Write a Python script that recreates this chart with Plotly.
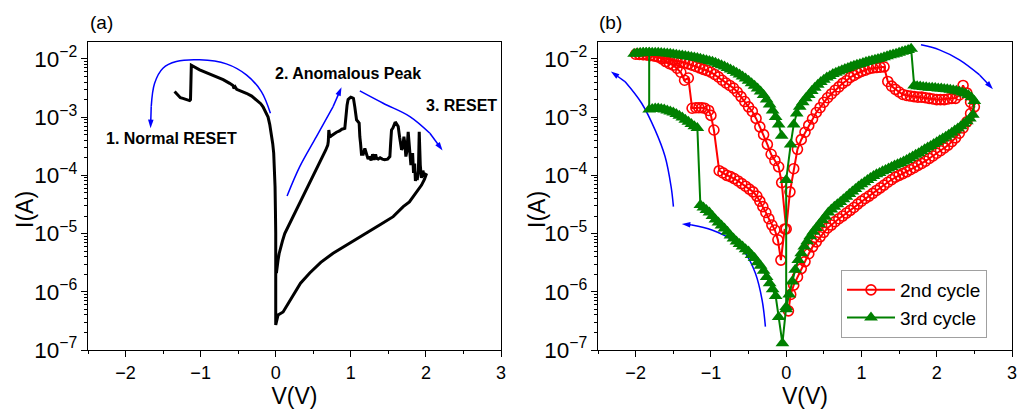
import numpy as np
import plotly.graph_objects as go

# ---------------- Panel (a) : single I-V loop (black line) ----------------
A_V = [-1.347, -1.30, -1.27, -1.236, -1.21, -1.18, -1.147, -1.135, -1.124, -1.013,
       -0.90, -0.791, -0.70, -0.613, -0.57, -0.555, -0.54, -0.52, -0.45, -0.391,
       -0.32, -0.258, -0.20, -0.169, -0.13, -0.102, -0.08, -0.058, -0.04, -0.027,
       -0.015, -0.009, -0.004, 0.0, 0.0,
       0.031, 0.098, 0.15, 0.231, 0.33, 0.453, 0.60, 0.764, 1.0, 1.209,
       1.40, 1.564, 1.698, 1.78, 1.831, 1.90, 1.942, 1.98, 2.009,
       1.98, 1.96, 1.94, 1.925, 1.911, 1.90, 1.884, 1.87, 1.86, 1.85,
       1.835, 1.823, 1.80, 1.78, 1.764, 1.745, 1.733, 1.72, 1.707, 1.69,
       1.676, 1.65, 1.631, 1.60, 1.587, 1.56, 1.542, 1.53, 1.52, 1.49,
       1.45, 1.42, 1.39, 1.365, 1.343, 1.33, 1.31, 1.29, 1.27, 1.25,
       1.23, 1.21, 1.187, 1.165, 1.142, 1.13, 1.12, 1.111, 1.09, 1.076,
       1.053, 1.035, 1.022, 1.0, 0.98, 0.964, 0.95, 0.94, 0.92, 0.88,
       0.85, 0.809, 0.775, 0.742, 0.72, 0.707, 0.70, 0.693, 0.665, 0.631,
       0.59, 0.542, 0.50, 0.453, 0.41, 0.364, 0.32, 0.26, 0.209, 0.16,
       0.12, 0.09, 0.067, 0.045, 0.031, 0.018, 0.009]
A_I = [2.75e-3, 2.4e-3, 2.15e-3, 2.1e-3, 2.05e-3, 2.0e-3, 1.92e-3, 2.0e-3, 7.8e-3, 6.5e-3,
       5.7e-3, 5.0e-3, 4.4e-3, 3.8e-3, 3.5e-3, 3.1e-3, 3.3e-3, 3.0e-3, 2.8e-3, 2.57e-3,
       2.3e-3, 2.0e-3, 1.7e-3, 1.5e-3, 1.2e-3, 1.0e-3, 7.5e-4, 5.3e-4, 3.5e-4, 2.4e-4,
       1.2e-4, 6.4e-5, 2.5e-5, 1.0e-5, 2.7e-7,
       4.0e-7, 4.5e-7, 5.8e-7, 8.8e-7, 1.4e-6, 2.1e-6, 3.2e-6, 4.6e-6, 7.0e-6, 1.0e-5,
       1.45e-5, 1.95e-5, 2.9e-5, 3.5e-5, 4.3e-5, 5.5e-5, 6.8e-5, 8.5e-5, 1.08e-4,
       9.5e-5, 1.2e-4, 9.0e-5, 1.5e-4, 5.6e-4, 1.2e-4, 8.3e-5, 1.0e-4, 8.0e-5, 1.6e-4,
       1.1e-4, 2.4e-4, 1.5e-4, 3.0e-4, 5.6e-4, 2.5e-4, 2.1e-4, 3.5e-4, 4.6e-4, 3.0e-4,
       2.75e-4, 4.5e-4, 6.9e-4, 8.0e-4, 7.9e-4, 6.5e-4, 6.0e-4, 3.5e-4, 2.1e-4, 1.9e-4,
       1.85e-4, 1.9e-4, 2.0e-4, 1.9e-4, 1.95e-4, 2.3e-4, 1.85e-4, 2.3e-4, 1.8e-4, 2.1e-4,
       1.9e-4, 2.3e-4, 2.9e-4, 2.3e-4, 2.3e-4, 3.5e-4, 4.6e-4, 7.9e-4, 8.5e-4, 9.0e-4,
       1.5e-3, 2.1e-3, 2.15e-3, 2.2e-3, 2.1e-3, 2.0e-3, 1.6e-3, 1.2e-3, 6.4e-4, 6.2e-4,
       5.8e-4, 5.5e-4, 5.2e-4, 4.8e-4, 4.5e-4, 6.0e-4, 3.8e-4, 3.3e-4, 2.7e-4, 2.2e-4,
       1.7e-4, 1.3e-4, 9.5e-5, 7.3e-5, 5.6e-5, 4.3e-5, 3.2e-5, 2.3e-5, 1.7e-5, 1.3e-5,
       1.0e-5, 7.5e-6, 6.0e-6, 4.5e-6, 3.5e-6, 2.7e-6, 2.1e-6]

# Blue guide arrows of panel (a): (V, log10 I), last point is the arrow tip
ARROW_A1 = [(-0.071, -2.934), (-0.191, -2.561), (-0.391, -2.275), (-0.658, -2.086),
            (-1.013, -2.017), (-1.324, -2.046), (-1.502, -2.16), (-1.613, -2.418),
            (-1.658, -2.82), (-1.667, -3.19)]
ARROW_A2 = [(0.151, -4.354), (0.32, -3.85), (0.542, -3.335), (0.764, -2.82), (0.876, -2.487)]
ARROW_A3 = [(1.12, -2.55), (1.431, -2.762), (1.787, -2.99), (2.053, -3.277), (2.222, -3.575)]

LABELS_A = ["1. Normal RESET", "2. Anomalous Peak", "3. RESET"]
LABEL_POS_A = [(-1.391, -3.363), (0.969, -2.258), (2.48, -2.796)]

# ---------------- Panel (b) : 2nd cycle (red circles) ----------------
R_LR_V = [0.03, 0.06, 0.10, 0.15, 0.20, 0.25, 0.30, 0.35, 0.40, 0.45, 0.50, 0.55, 0.60,
          0.65, 0.70, 0.75, 0.80, 0.85, 0.90, 0.95, 1.00, 1.05, 1.10, 1.15, 1.20, 1.25,
          1.30, 1.35, 1.40, 1.45, 1.50, 1.55, 1.60, 1.65, 1.70, 1.75, 1.80, 1.85, 1.90,
          1.95, 2.00, 2.05, 2.10, 2.15, 2.20, 2.25, 2.30, 2.35, 2.40, 2.45, 2.50]
R_LR_I = [4.7e-7, 9.0e-7, 1.3e-6, 1.8e-6, 2.5e-6, 3.3e-6, 4.5e-6, 5.9e-6, 7.2e-6, 8.8e-6,
          1.05e-5, 1.25e-5, 1.4e-5, 1.6e-5, 1.8e-5, 2.0e-5, 2.25e-5, 2.5e-5, 2.8e-5, 3.2e-5,
          3.6e-5, 4.0e-5, 4.4e-5, 4.9e-5, 5.5e-5, 6.1e-5, 6.8e-5, 7.6e-5, 8.4e-5, 9.3e-5,
          1.0e-4, 1.07e-4, 1.15e-4, 1.25e-4, 1.35e-4, 1.48e-4, 1.6e-4, 1.75e-4, 1.95e-4,
          2.15e-4, 2.4e-4, 2.65e-4, 2.95e-4, 3.3e-4, 3.8e-4, 4.4e-4, 5.3e-4, 6.5e-4, 8.3e-4,
          1.15e-3, 1.5e-3]
R_PL_V = [2.45, 2.40, 2.35, 2.30, 2.25, 2.20, 2.15, 2.10, 2.05, 2.00, 1.95, 1.90, 1.85,
          1.80, 1.75, 1.70, 1.65, 1.60, 1.55, 1.50, 1.45, 1.40, 1.35]
R_PL_I = [1.8e-3, 2.6e-3, 3.5e-3, 2.4e-3, 2.1e-3, 2.1e-3, 2.05e-3, 2.0e-3, 2.0e-3, 2.0e-3,
          2.05e-3, 2.1e-3, 2.15e-3, 2.2e-3, 2.2e-3, 2.25e-3, 2.3e-3, 2.35e-3, 2.45e-3,
          2.7e-3, 3.0e-3, 3.4e-3, 4.1e-3]
R_UR_V = [1.30, 1.25, 1.20, 1.15, 1.10, 1.05, 1.00, 0.95, 0.90, 0.85, 0.80, 0.75, 0.70,
          0.65, 0.60, 0.55, 0.50, 0.45, 0.40, 0.35, 0.30, 0.25, 0.20, 0.15, 0.10, 0.05, 0.00]
R_UR_I = [7.3e-3, 7.2e-3, 7.1e-3, 7.0e-3, 6.8e-3, 6.4e-3, 6.1e-3, 5.7e-3, 5.2e-3, 4.8e-3,
          4.2e-3, 3.8e-3, 3.3e-3, 2.9e-3, 2.5e-3, 2.15e-3, 1.8e-3, 1.45e-3, 1.2e-3, 9.3e-4,
          7.2e-4, 5.5e-4, 4.1e-4, 2.8e-4, 1.3e-4, 5.2e-5, 1.2e-5]
R_UL_V = [-0.06, -0.10, -0.15, -0.20, -0.25, -0.30, -0.35, -0.40, -0.45, -0.50, -0.55,
          -0.60, -0.65, -0.70, -0.75, -0.80, -0.85, -0.90, -0.95, -1.00, -1.05, -1.10,
          -1.15, -1.20, -1.25, -1.30, -1.35, -1.40, -1.45, -1.50, -1.55, -1.60, -1.65,
          -1.70, -1.75, -1.80, -1.85, -1.90, -1.95, -2.00]
R_UL_I = [7.5e-5, 1.4e-4, 1.8e-4, 2.3e-4, 3.4e-4, 5.0e-4, 6.8e-4, 9.5e-4, 1.25e-3, 1.5e-3,
          1.85e-3, 2.25e-3, 2.7e-3, 3.15e-3, 3.5e-3, 3.85e-3, 4.3e-3, 4.9e-3, 5.4e-3, 5.9e-3,
          6.3e-3, 6.6e-3, 7.0e-3, 7.4e-3, 7.8e-3, 8.2e-3, 8.6e-3, 8.9e-3, 9.2e-3, 9.6e-3,
          1.0e-2, 1.04e-2, 1.07e-2, 1.1e-2, 1.13e-2, 1.15e-2, 1.17e-2, 1.18e-2, 1.19e-2, 1.2e-2]
R_RT_V = [-1.95, -1.90, -1.85, -1.80, -1.75, -1.70, -1.65, -1.60, -1.55, -1.50, -1.45,
          -1.40, -1.35, -1.30, -1.25, -1.20, -1.16, -1.12, -1.08, -1.03, -1.00, -0.96,
          -0.89, -0.84, -0.79, -0.74, -0.69, -0.64, -0.59, -0.54, -0.49, -0.44,
          -0.39, -0.35, -0.31, -0.27, -0.23, -0.19, -0.15, -0.11, -0.07, -0.02]
R_RT_I = [1.2e-2, 1.19e-2, 1.18e-2, 1.15e-2, 1.12e-2, 1.08e-2, 1.0e-2, 9.0e-3, 8.3e-3, 7.8e-3,
          6.9e-3, 5.9e-3, 4.3e-3, 4.7e-3, 1.42e-3, 1.45e-3, 1.45e-3, 1.45e-3, 1.42e-3, 1.3e-3,
          1.07e-3, 6.0e-4, 1.2e-4, 1.1e-4, 1.0e-4, 9.5e-5, 8.8e-5, 8.0e-5, 7.2e-5, 6.5e-5,
          5.8e-5, 5.2e-5, 4.4e-5, 3.6e-5, 2.9e-5, 2.3e-5, 1.8e-5, 1.4e-5, 1.15e-5, 7.8e-6,
          3.5e-6, 1.2e-5]

# ---------------- Panel (b) : 3rd cycle (green triangles) ----------------
G_UL_V = [-0.06, -0.10, -0.14, -0.18, -0.22, -0.26, -0.30, -0.34, -0.38, -0.42,
          -0.46, -0.50, -0.54, -0.58, -0.62, -0.66, -0.70, -0.74, -0.78, -0.82,
          -0.86, -0.90, -0.94, -0.98, -1.02, -1.06, -1.10, -1.14, -1.18, -1.22,
          -1.26, -1.30, -1.34, -1.38, -1.42, -1.46, -1.50, -1.54, -1.58, -1.62,
          -1.66, -1.70, -1.74, -1.78, -1.82, -1.86, -1.90, -1.94, -1.98, -2.02]
G_UL_I = [4.8e-4, 7.5e-4, 1.0e-3, 1.3e-3, 1.65e-3, 2.0e-3, 2.4e-3, 2.75e-3, 3.1e-3, 3.45e-3,
          3.8e-3, 4.2e-3, 4.6e-3, 5.0e-3, 5.4e-3, 5.8e-3, 6.2e-3, 6.6e-3, 7.0e-3, 7.4e-3,
          7.8e-3, 8.2e-3, 8.6e-3, 8.9e-3, 9.2e-3, 9.5e-3, 9.8e-3, 1.01e-2, 1.04e-2, 1.06e-2,
          1.08e-2, 1.1e-2, 1.12e-2, 1.14e-2, 1.16e-2, 1.18e-2, 1.2e-2, 1.22e-2, 1.24e-2, 1.25e-2,
          1.26e-2, 1.27e-2, 1.27e-2, 1.27e-2, 1.27e-2, 1.26e-2, 1.26e-2, 1.25e-2, 1.24e-2, 1.22e-2]
G_RT_V = [-1.98, -1.94, -1.90, -1.86, -1.82]
G_RT_I = [1.25e-2, 1.26e-2, 1.27e-2, 1.27e-2, 1.27e-2]
G_MID_V = [-1.82, -1.78, -1.74, -1.70, -1.66, -1.62, -1.58, -1.54, -1.50, -1.46, -1.42,
           -1.38, -1.34, -1.30, -1.26, -1.22, -1.18]
G_MID_I = [1.35e-3, 1.38e-3, 1.4e-3, 1.4e-3, 1.38e-3, 1.35e-3, 1.3e-3, 1.25e-3, 1.2e-3,
           1.13e-3, 1.06e-3, 9.8e-4, 9.0e-4, 8.3e-4, 7.6e-4, 7.0e-4, 6.5e-4]
G_LL_V = [-1.14, -1.10, -1.06, -1.02, -0.98, -0.94, -0.90, -0.86, -0.82, -0.78, -0.74,
          -0.70, -0.66, -0.62, -0.58, -0.54, -0.50, -0.46, -0.42, -0.38, -0.34, -0.30,
          -0.26, -0.22, -0.18, -0.14, -0.10, -0.05]
G_LL_I = [3.1e-5, 2.8e-5, 2.55e-5, 2.3e-5, 2.0e-5, 1.75e-5, 1.55e-5, 1.38e-5, 1.22e-5,
          1.07e-5, 9.3e-6, 8.2e-6, 7.3e-6, 6.6e-6, 6.0e-6, 5.4e-6, 4.9e-6, 4.3e-6, 3.8e-6,
          3.2e-6, 2.8e-6, 2.3e-6, 1.8e-6, 1.4e-6, 1.1e-6, 8.5e-7, 3.7e-7, 1.3e-7]
G_LR_V = [0.00, 0.04, 0.08, 0.12, 0.16, 0.20, 0.24, 0.28, 0.32, 0.36, 0.40, 0.44, 0.48,
          0.52, 0.56, 0.60, 0.64, 0.68, 0.72, 0.76, 0.80, 0.84, 0.88, 0.92, 0.96, 1.00,
          1.04, 1.08, 1.12, 1.16, 1.20, 1.24, 1.28, 1.32, 1.36, 1.40, 1.44, 1.48, 1.52,
          1.56, 1.60, 1.64, 1.68, 1.72, 1.76, 1.80, 1.84, 1.88, 1.92, 1.96, 2.00, 2.04,
          2.08, 2.12, 2.16, 2.20, 2.24, 2.28, 2.32, 2.36, 2.40, 2.44, 2.48]
G_LR_I = [5.5e-7, 9.0e-7, 1.5e-6, 2.4e-6, 3.5e-6, 4.6e-6, 6.0e-6, 7.4e-6, 9.0e-6, 1.07e-5,
          1.25e-5, 1.45e-5, 1.7e-5, 1.95e-5, 2.3e-5, 2.6e-5, 2.9e-5, 3.2e-5, 3.5e-5, 3.9e-5,
          4.3e-5, 4.8e-5, 5.3e-5, 5.8e-5, 6.4e-5, 7.0e-5, 7.6e-5, 8.3e-5, 9.0e-5, 9.7e-5,
          1.04e-4, 1.1e-4, 1.17e-4, 1.24e-4, 1.31e-4, 1.39e-4, 1.47e-4, 1.55e-4, 1.63e-4,
          1.73e-4, 1.84e-4, 1.96e-4, 2.1e-4, 2.25e-4, 2.4e-4, 2.6e-4, 2.8e-4, 3.0e-4, 3.2e-4,
          3.45e-4, 3.7e-4, 4.0e-4, 4.3e-4, 4.6e-4, 5.0e-4, 5.4e-4, 5.9e-4, 6.4e-4, 7.0e-4,
          7.7e-4, 8.5e-4, 9.5e-4, 1.1e-3]
G_PL_V = [2.50, 2.46, 2.42, 2.38, 2.34, 2.30, 2.26, 2.22, 2.18, 2.14, 2.10, 2.06, 2.02,
          1.98, 1.94, 1.90, 1.86, 1.82, 1.78, 1.74, 1.70]
G_PL_I = [1.9e-3, 2.2e-3, 2.4e-3, 2.55e-3, 2.65e-3, 2.75e-3, 2.85e-3, 2.9e-3, 2.95e-3, 3.0e-3,
          3.05e-3, 3.1e-3, 3.1e-3, 3.15e-3, 3.2e-3, 3.2e-3, 3.25e-3, 3.3e-3, 3.35e-3, 3.4e-3,
          3.5e-3]
G_UR_V = [1.66, 1.62, 1.58, 1.54, 1.50, 1.46, 1.42, 1.38, 1.34, 1.30, 1.26, 1.22, 1.18,
          1.14, 1.10, 1.06, 1.02, 0.98, 0.94, 0.90, 0.86, 0.82, 0.78, 0.74, 0.70, 0.66,
          0.62, 0.58, 0.54, 0.50, 0.46, 0.42, 0.38, 0.34, 0.30, 0.26, 0.22, 0.18, 0.14,
          0.10, 0.06, 0.00, 0.00]
G_UR_I = [1.5e-2, 1.42e-2, 1.37e-2, 1.32e-2, 1.27e-2, 1.23e-2, 1.19e-2, 1.15e-2, 1.11e-2,
          1.07e-2, 1.03e-2, 1.0e-2, 9.7e-3, 9.4e-3, 9.1e-3, 8.8e-3, 8.5e-3, 8.2e-3, 7.9e-3,
          7.6e-3, 7.3e-3, 7.0e-3, 6.7e-3, 6.4e-3, 6.1e-3, 5.8e-3, 5.5e-3, 5.1e-3, 4.8e-3,
          4.4e-3, 4.0e-3, 3.6e-3, 3.2e-3, 2.8e-3, 2.4e-3, 2.1e-3, 1.8e-3, 1.5e-3, 1.15e-3,
          7.5e-4, 3.4e-4, 8.3e-5, 5.0e-7]

# Blue guide arrows of panel (b): (V, log10 I), last point is the tip
ARROW_B1 = [(-1.498, -4.537), (-1.529, -4.194), (-1.609, -3.678), (-1.742, -3.22),
            (-1.92, -2.762), (-2.142, -2.389), (-2.329, -2.218)]
ARROW_B2 = [(-0.276, -6.599), (-0.32, -6.141), (-0.409, -5.683), (-0.542, -5.339),
            (-0.72, -5.11), (-0.987, -4.938), (-1.253, -4.852), (-1.387, -4.835)]
ARROW_B3 = [(1.791, -1.759), (2.036, -1.845), (2.302, -2.017), (2.569, -2.275), (2.747, -2.521)]

SERIES_NAMES = ["2nd cycle", "3rd cycle"]
X_TICKS = [-2, -1, 0, 1, 2, 3]

for a, b in [(A_V, A_I), (R_LR_V, R_LR_I), (R_PL_V, R_PL_I), (R_UR_V, R_UR_I),
             (R_UL_V, R_UL_I), (R_RT_V, R_RT_I), (G_UL_V, G_UL_I), (G_RT_V, G_RT_I),
             (G_MID_V, G_MID_I), (G_LL_V, G_LL_I), (G_LR_V, G_LR_I), (G_PL_V, G_PL_I),
             (G_UR_V, G_UR_I)]:
    assert len(a) == len(b), (len(a), len(b))

R_V = R_LR_V + R_PL_V + R_UR_V + R_UL_V + R_RT_V
R_I = R_LR_I + R_PL_I + R_UR_I + R_UL_I + R_RT_I
G_V = G_UL_V + G_RT_V + G_MID_V + G_LL_V + G_LR_V + G_PL_V + G_UR_V
G_I = G_UL_I + G_RT_I + G_MID_I + G_LL_I + G_LR_I + G_PL_I + G_UR_I

FONT = "Liberation Sans, Arial, sans-serif"
BLUE = "#0000ff"
RED = "#ff0000"
GREEN = "#008000"

fig = go.Figure()
fig.add_trace(go.Scatter(x=A_V, y=A_I, mode="lines", xaxis="x", yaxis="y",
                         line=dict(color="black", width=3), showlegend=False))

for arrow, xa, ya in [(ARROW_A1, "x", "y"), (ARROW_A2, "x", "y"), (ARROW_A3, "x", "y"),
                      (ARROW_B1, "x2", "y2"), (ARROW_B2, "x2", "y2"), (ARROW_B3, "x2", "y2")]:
    vs = [p[0] for p in arrow]
    cs = [10 ** p[1] for p in arrow]
    fig.add_trace(go.Scatter(x=vs[:-1], y=cs[:-1], mode="lines", xaxis=xa, yaxis=ya,
                             line=dict(color=BLUE, width=1.5, shape="spline"),
                             showlegend=False, hoverinfo="skip"))
    # arrow head: short segment ending at the tip, with an "arrow" marker at the tip
    fig.add_trace(go.Scatter(x=vs[-2:], y=cs[-2:], mode="lines+markers", xaxis=xa, yaxis=ya,
                             line=dict(color=BLUE, width=1.5),
                             marker=dict(symbol="arrow", angleref="previous", size=[0, 9],
                                         opacity=[0, 1], color=BLUE, line=dict(width=0)),
                             showlegend=False, hoverinfo="skip"))

fig.add_trace(go.Scatter(x=R_V, y=R_I, mode="lines+markers", name=SERIES_NAMES[0],
                         xaxis="x2", yaxis="y2",
                         line=dict(color=RED, width=2),
                         marker=dict(symbol="circle-open", size=10, color=RED,
                                     line=dict(width=1.6, color=RED))))
fig.add_trace(go.Scatter(x=G_V, y=G_I, mode="lines+markers", name=SERIES_NAMES[1],
                         xaxis="x2", yaxis="y2",
                         line=dict(color=GREEN, width=2),
                         marker=dict(symbol="triangle-up", size=12, color=GREEN)))

annotations = []
for txt, (v, l) in zip(LABELS_A, LABEL_POS_A):
    annotations.append(dict(x=v, y=l, xref="x", yref="y", text="<b>%s</b>" % txt,
                            showarrow=False, font=dict(family=FONT, size=16, color="black")))

for txt, px in [("(a)", 88), ("(b)", 597)]:
    annotations.append(dict(x=px / 1024, y=1 - 23 / 412, xref="paper", yref="paper", text=txt,
                            showarrow=False, xanchor="left", yanchor="middle",
                            font=dict(family=FONT, size=19, color="black")))

# y-axis titles placed as rotated texts, as in the reference
for px in [25, 537]:
    annotations.append(dict(x=px / 1024, y=1 - 210 / 412, xref="paper", yref="paper",
                            text="I(A)", textangle=-90, showarrow=False,
                            xanchor="center", yanchor="middle",
                            font=dict(family=FONT, size=23, color="black")))

ydom = [1 - 350 / 412, 1 - 42 / 412]


def xaxis_style(domain):
    return dict(domain=domain, range=[-2.5, 3], tickvals=X_TICKS, ticks="outside",
                ticklen=6, tickwidth=1.3, tickcolor="black", automargin=False,
                minor=dict(dtick=0.5, tick0=0, ticks="outside", ticklen=3, tickwidth=1.2,
                           tickcolor="black", showgrid=False),
                showline=True, linecolor="black", linewidth=1.3, mirror=True,
                showgrid=False, zeroline=False,
                tickfont=dict(family=FONT, size=18, color="black"),
                title=dict(text="V(V)", font=dict(family=FONT, size=23, color="black"),
                           standoff=6))


def yaxis_style(anchor):
    return dict(domain=ydom, type="log", range=[-7, -1.71], dtick=1, exponentformat="power",
                ticks="outside", ticklen=6, tickwidth=1.3, tickcolor="black", automargin=False,
                minor=dict(ticks="outside", ticklen=3, tickwidth=1, tickcolor="black",
                           showgrid=False),
                showline=True, linecolor="black", linewidth=1.3, mirror=True,
                showgrid=False, zeroline=False, anchor=anchor,
                tickfont=dict(family=FONT, size=18, color="black"))


fig.update_layout(
    width=1024, height=412,
    margin=dict(l=0, r=0, t=0, b=0, autoexpand=False),
    paper_bgcolor="white", plot_bgcolor="white",
    xaxis=dict(xaxis_style([88 / 1024, 501 / 1024]), anchor="y"),
    yaxis=yaxis_style("x"),
    xaxis2=dict(xaxis_style([598 / 1024, 1012 / 1024]), anchor="y2"),
    yaxis2=yaxis_style("x2"),
    legend=dict(x=841 / 1024, y=1 - 270 / 412, xanchor="left", yanchor="top",
                bgcolor="white", bordercolor="#a0a0a0", borderwidth=1, itemwidth=48,
                font=dict(family=FONT, size=19, color="black"), tracegroupgap=0),
    annotations=annotations,
    font=dict(family=FONT),
)

fig.write_html("out.html")
